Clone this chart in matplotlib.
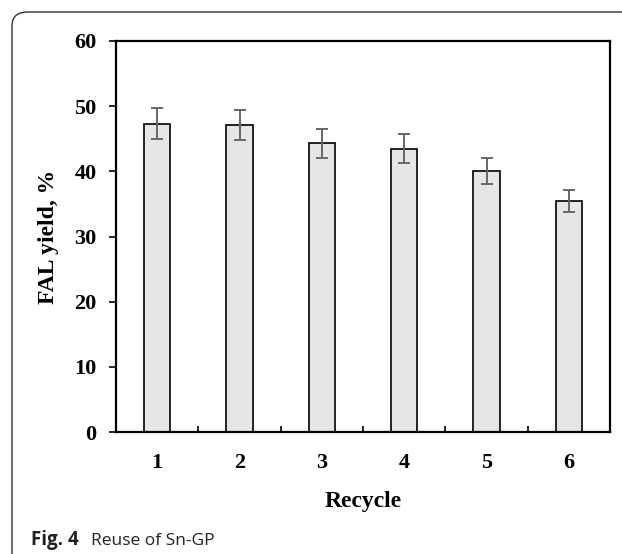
import matplotlib
matplotlib.use("Agg")
import matplotlib.pyplot as plt
from matplotlib.patches import FancyBboxPatch

# Recycle runs and FAL yield (%) with error bars
recycle = [1, 2, 3, 4, 5, 6]
fal_yield = [47.3, 47.1, 44.3, 43.5, 40.1, 35.5]
yield_err = [2.35, 2.3, 2.2, 2.2, 2.0, 1.7]
y_ticks = [0, 10, 20, 30, 40, 50, 60]

W, H = 622, 554
fig = plt.figure(figsize=(W / 100, H / 100), dpi=100)

# rounded caption frame (cut off on the right and bottom)
frame = FancyBboxPatch((12 / W, -30 / H), (W + 30) / W, (H + 30 - 12) / H,
                       boxstyle="round,pad=0,rounding_size=0.025",
                       transform=fig.transFigure, fill=False,
                       edgecolor="#333333", linewidth=1.0, clip_on=False)
fig.patches.append(frame)

ax = fig.add_axes([116 / W, (H - 432) / H, (610 - 116) / W, (432 - 41) / H])

serif = ["Liberation Serif", "DejaVu Serif"]

ax.bar(recycle, fal_yield, width=0.32, color="#e6e6e6", edgecolor="black",
       linewidth=1.2, zorder=2)
ax.errorbar(recycle, fal_yield, yerr=yield_err, fmt="none", ecolor="#666666",
            elinewidth=1.4, capsize=4, capthick=1.4, zorder=3)

ax.set_xlim(0.5, 6.5)
ax.set_ylim(0, 60)
ax.set_yticks(y_ticks)
ax.set_xticks(recycle)
ax.set_xticks([1.5, 2.5, 3.5, 4.5, 5.5], minor=True)

ax.tick_params(axis="y", direction="out", length=5, width=1.2, pad=9)
ax.tick_params(axis="x", which="major", length=0, pad=15)
ax.tick_params(axis="x", which="minor", direction="in", length=4.5, width=1.2)

for lbl in ax.get_xticklabels() + ax.get_yticklabels():
    lbl.set_fontfamily(serif)
    lbl.set_fontweight("bold")
    lbl.set_fontsize(16)

for sp in ax.spines.values():
    sp.set_linewidth(1.6)

ax.set_xlabel("Recycle", family=serif, fontweight="bold", fontsize=17, labelpad=13)
ax.set_ylabel("FAL yield, %", family=serif, fontweight="bold", fontsize=17, labelpad=11)

# figure caption
fig.text(31 / W, (H - 545) / H, "Fig. 4", family=["Open Sans", "DejaVu Sans"],
         fontweight="bold", fontsize=13.5, color="#231f20", va="baseline")
fig.text(91 / W, (H - 545) / H, "Reuse of Sn-GP", family=["Open Sans", "DejaVu Sans"],
         fontsize=12.5, color="#231f20", va="baseline")

fig.savefig("out.png", dpi=100)
